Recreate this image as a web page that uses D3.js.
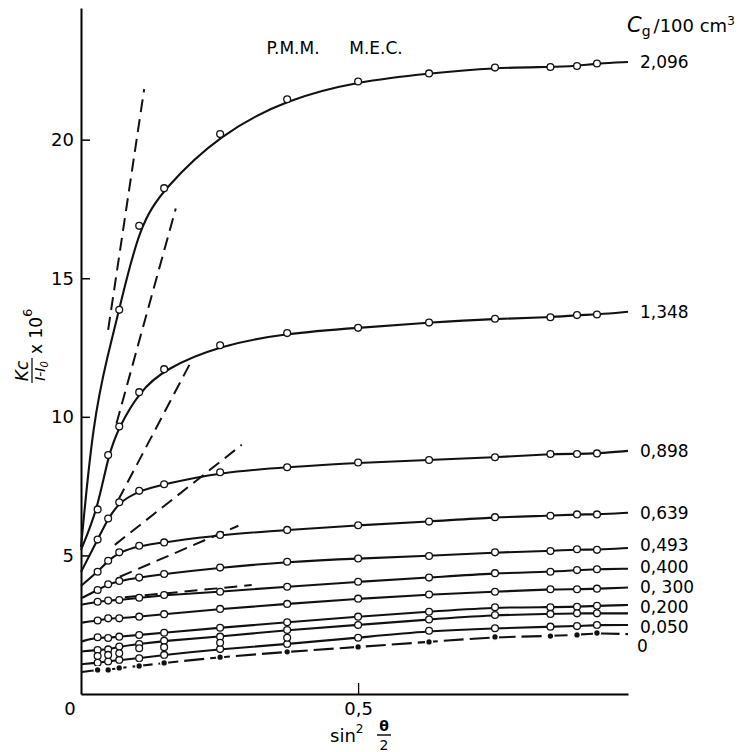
<!DOCTYPE html>
<html>
<head>
<meta charset="utf-8">
<script src="https://cdn.jsdelivr.net/npm/d3@7"></script>
<style>
body { margin: 0; background: #fff; }
text { font-family: "DejaVu Sans", sans-serif; fill: #000; }
</style>
</head>
<body>
<script>
// sin^2(theta/2) values at which the points were measured
var sinVals = [0.030, 0.049, 0.069, 0.105, 0.150, 0.251, 0.372, 0.500, 0.628, 0.747, 0.847, 0.895, 0.931];

// concentration labels (g / 100 cm3), top to bottom; "" = unlabeled curve
var concLabels = ["2,096", "1,348", "0,898", "0,639", "0,493", "0,400", "0, 300", "0,200", "", "0,050", "0"];

// Kc/(I-I0) x 10^6 at each angle, one array per concentration
var c2096 = [null, null, 13.86, 16.89, 18.25, 20.20, 21.46, 22.10, 22.39, 22.60, 22.62, 22.66, 22.75];
var c1348 = [6.66, 8.62, 9.65, 10.89, 11.72, 12.58, 13.02, 13.21, 13.40, 13.54, 13.59, 13.67, 13.69];
var c0898 = [5.57, 6.33, 6.92, 7.33, 7.57, 8.00, 8.18, 8.35, 8.44, 8.54, 8.66, 8.66, 8.68];
var c0639 = [4.41, 4.81, 5.11, 5.35, 5.47, 5.74, 5.92, 6.09, 6.22, 6.38, 6.43, 6.48, 6.48];
var c0493 = [3.75, 3.96, 4.08, 4.20, 4.33, 4.56, 4.77, 4.89, 4.98, 5.11, 5.16, 5.22, 5.20];
var c0400 = [3.33, 3.37, 3.39, 3.47, 3.57, 3.69, 3.87, 4.05, 4.20, 4.36, 4.41, 4.47, 4.50];
var c0300 = [2.65, 2.73, 2.73, 2.79, 2.88, 3.07, 3.25, 3.44, 3.59, 3.69, 3.78, 3.78, 3.80];
var c0200 = [2.05, 2.02, 2.07, 2.13, 2.21, 2.39, 2.59, 2.79, 2.97, 3.13, 3.13, 3.15, 3.18];
var c0150 = [1.59, 1.61, 1.71, 1.80, 1.92, 2.07, 2.31, 2.49, 2.69, 2.85, 2.89, 2.91, 2.91];
var c0050 = [1.13, 1.17, 1.23, 1.29, 1.41, 1.62, 1.80, 2.03, 2.28, 2.37, 2.43, 2.45, 2.49];
var c0000 = [0.87, 0.87, 0.94, 1.01, 1.12, 1.33, 1.52, 1.70, 1.88, 2.06, 2.09, 2.13, 2.20];

// stray points with no curve drawn through them
var extraPts = [1.37, 1.41, 1.47, 1.65, 1.69, 1.85, 2.03];

// where the drawn curves start (sin2 = 0) and end
var intercepts = [5.3, 5.2, 4.4, 3.9, 3.45, 3.22, 2.57, 1.89, 1.53, 1.07, 0.79];
var endVals = [22.80, 13.79, 8.77, 6.54, 5.27, 4.52, 3.84, 3.21, 2.91, 2.49, 2.16];
var xEnd = 0.987;
// guide values for the 2,096 curve where no point was measured
var guide2096 = [[0.022, 9.9], [0.049, 12.3]];

// dashed initial tangents: [x1, y1, x2, y2]
var tangents = [
  [0.049, 13.14, 0.114, 21.82],
  [0.064, 9.76, 0.171, 17.52],
  [0.067, 6.99, 0.197, 11.93],
  [0.061, 5.38, 0.290, 8.99],
  [0.070, 4.23, 0.284, 6.07],
  [0.079, 3.49, 0.308, 3.93]
];

var yTicks = [5, 10, 15, 20];

var series = [c2096, c1348, c0898, c0639, c0493, c0400, c0300, c0200, c0150, c0050, c0000];

var W = 741, H = 752;
var svg = d3.select("body").append("svg").attr("width", W).attr("height", H);

var x = d3.scaleLinear().domain([0, xEnd]).range([81, 628]);
var y = d3.scaleLinear().domain([0, 24.75]).range([694, 8]);

// axes
svg.append("g")
    .attr("transform", "translate(" + x(0) + ",0)")
    .call(d3.axisLeft(y).tickValues(yTicks).tickSize(-9).tickSizeOuter(0).tickPadding(7))
    .call(function(g){
      g.select(".domain").attr("stroke-width", 2);
      g.selectAll(".tick line").attr("stroke-width", 1.5);
      g.selectAll("text").attr("font-size", 18).style("font-family", "DejaVu Sans");
    });

svg.append("g")
    .attr("transform", "translate(0," + y(0) + ")")
    .call(d3.axisBottom(x).tickValues([0.5]).tickSize(-11).tickSizeOuter(0).tickPadding(8)
      .tickFormat(function(d){ return "0,5"; }))
    .call(function(g){
      g.select(".domain").attr("stroke-width", 2);
      g.selectAll(".tick line").attr("stroke-width", 1.3);
      g.selectAll("text").attr("font-size", 18).style("font-family", "DejaVu Sans");
    });

svg.append("text").attr("x", 70).attr("y", 715).attr("text-anchor", "middle")
    .attr("font-size", 18).text("0");

// dashed tangents
svg.selectAll("line.tan")
    .data(tangents)
    .enter().append("line")
    .attr("class", "tan")
    .attr("x1", function(d){ return x(d[0]); })
    .attr("y1", function(d){ return y(d[1]); })
    .attr("x2", function(d){ return x(d[2]); })
    .attr("y2", function(d){ return y(d[3]); })
    .attr("stroke", "#111")
    .attr("stroke-width", 2)
    .attr("stroke-dasharray", "13,7");

// curves
var line = d3.line()
    .x(function(d){ return x(d[0]); })
    .y(function(d){ return y(d[1]); })
    .curve(d3.curveBasis);

series.forEach(function(s, i){
  var pts = [[0, intercepts[i]]];
  if (i === 0) guide2096.forEach(function(g){ pts.push(g); });
  s.forEach(function(v, j){ if (v !== null) pts.push([sinVals[j], v]); });
  pts.push([xEnd, endVals[i]]);
  svg.append("path")
      .attr("d", line(pts))
      .attr("fill", "none")
      .attr("stroke", "#111")
      .attr("stroke-width", 2.1)
      .attr("stroke-dasharray", i === series.length - 1 ? "20,6" : null);
});

// points
series.forEach(function(s, i){
  var filled = i === series.length - 1;
  svg.append("g").selectAll("circle")
      .data(s.map(function(v, j){ return [sinVals[j], v]; }).filter(function(d){ return d[1] !== null; }))
      .enter().append("circle")
      .attr("cx", function(d){ return x(d[0]); })
      .attr("cy", function(d){ return y(d[1]); })
      .attr("r", 3.4)
      .attr("fill", filled ? "#111" : "#fff")
      .attr("stroke", filled ? "#fff" : "#111")
      .attr("stroke-width", filled ? 1.5 : 1.3);
});

svg.append("g").selectAll("circle")
    .data(extraPts)
    .enter().append("circle")
    .attr("cx", function(d, i){ return x(sinVals[i]); })
    .attr("cy", function(d){ return y(d); })
    .attr("r", 3.4)
    .attr("fill", "#fff")
    .attr("stroke", "#111")
    .attr("stroke-width", 1.3);

// curve labels (small nudges keep the crowded ones apart, as in the print)
var nudge = {"0,493": -3, "0,400": -2, "0, 300": -0.5, "0,200": 2, "0,050": 2, "0": 12};
svg.selectAll("text.conc")
    .data(concLabels)
    .enter().append("text")
    .attr("class", "conc")
    .attr("x", function(d){ return d === "0" ? 637 : 640; })
    .attr("y", function(d, i){ return y(endVals[i]) + (nudge[d] || 0); })
    .attr("dy", "0.36em")
    .attr("font-size", 17)
    .text(function(d){ return d; });

// header texts
svg.append("text").attr("x", 293).attr("y", 54).attr("text-anchor", "middle")
    .attr("font-size", 17).text("P.M.M.");
svg.append("text").attr("x", 376).attr("y", 54).attr("text-anchor", "middle")
    .attr("font-size", 17).text("M.E.C.");

var cg = svg.append("text").attr("x", 627).attr("y", 32).attr("font-size", 18);
cg.append("tspan").attr("font-style", "italic").attr("font-size", 21).text("C");
cg.append("tspan").attr("font-size", 14).attr("dy", 4).text("g");
cg.append("tspan").attr("dy", -4).attr("dx", 3).text("/100 cm");
cg.append("tspan").attr("font-size", 12).attr("dy", -7).text("3");

// y label: Kc/(I-I0) x 10^6, rotated
var yl = svg.append("g").attr("transform", "translate(32,383) rotate(-90)");
yl.append("text").attr("x", 12).attr("y", -4).attr("text-anchor", "middle")
    .attr("font-size", 17).attr("font-style", "italic").text("Kc");
yl.append("line").attr("x1", 0).attr("x2", 25).attr("y1", 0).attr("y2", 0)
    .attr("stroke", "#111").attr("stroke-width", 1.3);
var den = yl.append("text").attr("x", 12).attr("y", 13).attr("text-anchor", "middle")
    .attr("font-size", 14).attr("font-style", "italic");
den.append("tspan").text("I-I");
den.append("tspan").attr("font-size", 10).attr("dy", 3).text("0");
var ex = yl.append("text").attr("x", 29).attr("y", 10).attr("font-size", 17);
ex.append("tspan").text("x 10");
ex.append("tspan").attr("font-size", 13).attr("dy", -10).text("6");

// x label: sin^2 (theta/2)
var xl = svg.append("text").attr("x", 330).attr("y", 742).attr("font-size", 18);
xl.append("tspan").text("sin");
xl.append("tspan").attr("font-size", 12).attr("dy", -9).text("2");
svg.append("text").attr("x", 384).attr("y", 731).attr("text-anchor", "middle")
    .attr("font-size", 14).attr("font-weight", "bold").text("θ");
svg.append("line").attr("x1", 377).attr("x2", 391).attr("y1", 735).attr("y2", 735)
    .attr("stroke", "#111").attr("stroke-width", 1.5);
svg.append("text").attr("x", 384).attr("y", 750).attr("text-anchor", "middle")
    .attr("font-size", 14).text("2");
</script>
</body>
</html>
